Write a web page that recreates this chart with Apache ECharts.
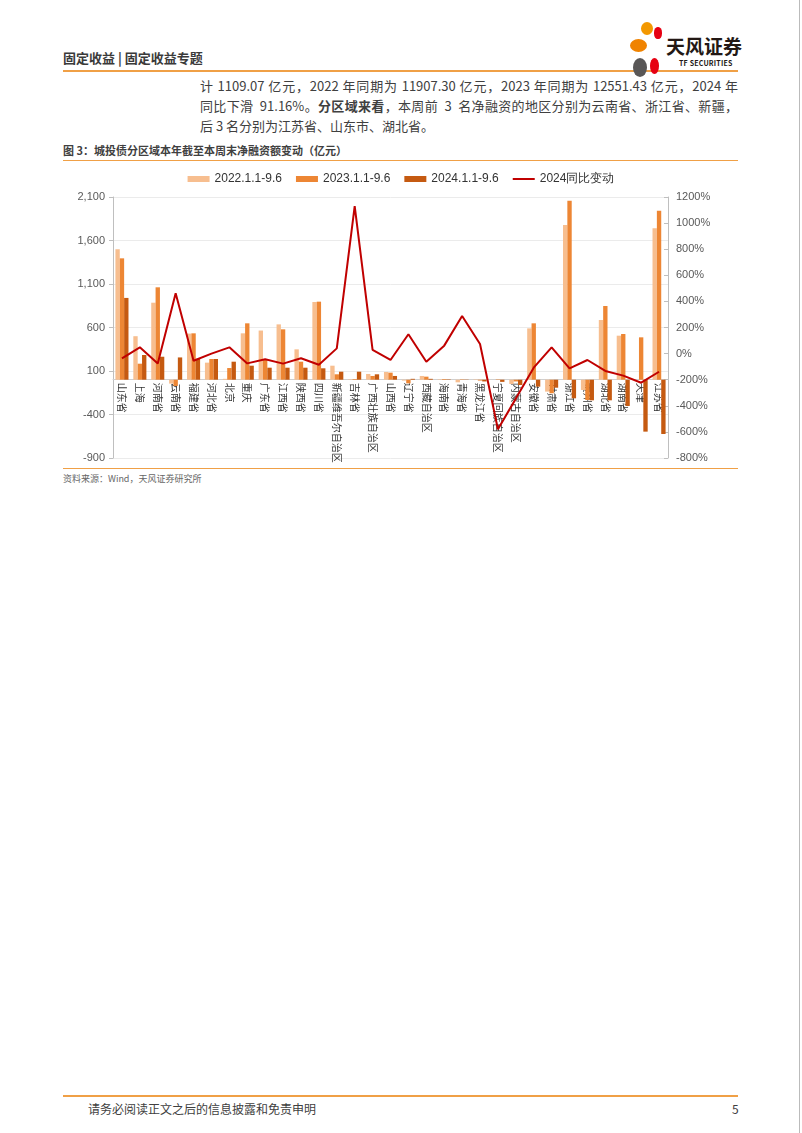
<!DOCTYPE html>
<html><head><meta charset="utf-8">
<script src="https://cdn.jsdelivr.net/npm/echarts@6/dist/echarts.min.js"></script>
<style>
html,body{margin:0;padding:0;background:#fff;}
body{width:802px;height:1133px;position:relative;overflow:hidden;font-family:"Noto Sans CJK SC","Noto Sans",sans-serif;color:#333;}
.abs{position:absolute;}
.hdr{left:63px;top:48px;font-size:13px;font-weight:bold;color:#3a3a3a;}
.oline{background:#F0A046;height:2px;}
.para{left:200px;width:538px;font-size:13px;color:#404040;line-height:20px;}
.para div{text-align:justify;text-align-last:justify;white-space:nowrap;}
.para div.last{text-align-last:left;}
.ftitle{left:63px;top:142px;font-size:11px;font-weight:bold;color:#404040;}
.src{left:63px;top:472px;font-size:9px;color:#666;}
.foot{left:88px;top:1100px;font-size:12px;color:#404040;}
.pg{left:732px;top:1100px;font-size:12px;color:#404040;}
.blob{position:absolute;border-radius:50%;}
</style></head><body>
<div class="abs hdr">固定收益 | 固定收益专题</div>
<div class="abs oline" style="left:63px;top:70px;width:675px;"></div>
<!-- logo -->
<div class="blob" style="left:641px;top:22px;width:12px;height:13px;background:#F39800;"></div>
<div class="blob" style="left:654px;top:27px;width:8px;height:12px;background:#E60012;border-radius:45%;"></div>
<div class="blob" style="left:630px;top:39px;width:17px;height:13px;background:#F08300;"></div>
<div class="blob" style="left:633px;top:58px;width:14px;height:19px;background:#595757;"></div>
<div class="blob" style="left:650px;top:58px;width:9px;height:16px;background:#E60012;"></div>
<div class="abs" style="left:666px;top:32px;font-size:19px;font-weight:bold;color:#231815;">天风证券</div>
<div class="abs" style="left:679px;top:58px;font-size:7px;font-weight:bold;color:#231815;letter-spacing:0.2px;">TF SECURITIES</div>

<div class="abs para" style="top:76px;">
<div>计 1109.07 亿元，2022 年同期为 11907.30 亿元，2023 年同期为 12551.43 亿元，2024 年</div>
<div>同比下滑&nbsp; 91.16%。<b>分区域来看</b>，本周前&nbsp; 3&nbsp; 名净融资的地区分别为云南省、浙江省、新疆，</div>
<div class="last">后 3 名分别为江苏省、山东市、湖北省。</div>
</div>

<div class="abs ftitle">图 3：城投债分区域本年截至本周末净融资额变动（亿元）</div>
<div class="abs" style="left:63px;top:160px;width:675px;height:1px;background:#F0A046;"></div>
<div id="chart" class="abs" style="left:0;top:160px;width:802px;height:308px;"></div>
<div class="abs" style="left:63px;top:468px;width:675px;height:1px;background:#F0A046;"></div>
<div class="abs src">资料来源：Wind，天风证券研究所</div>

<div class="abs oline" style="left:63px;top:1095px;width:675px;"></div>
<div class="abs foot">请务必阅读正文之后的信息披露和免责申明</div>
<div class="abs pg">5</div>
<div class="abs" style="left:799px;top:0;width:1px;height:1133px;background:#bbb;"></div>

<script>
const categories = ['山东省','上海','河南省','云南省','福建省','河北省','北京','重庆','广东省','江西省','陕西省','四川省','新疆维吾尔自治区','吉林省','广西壮族自治区','山西省','辽宁省','西藏自治区','海南省','青海省','黑龙江省','宁夏回族自治区','内蒙古自治区','安徽省','甘肃省','浙江省','贵州省','湖北省','湖南省','天津','江苏省'];
const seriesNames = ['2022.1.1-9.6','2023.1.1-9.6','2024.1.1-9.6','2024同比变动'];
const v2022 = [1500, 500, 885, -45, 530, 196, 10, 533, 565, 636, 349, 893, 161, 5, 66, 89, -10, 43, 5, -30, 5, 0, -49, 590, -137, 1778, -118, 686, 506, 0, 1740];
const v2023 = [1395, 184, 1062, -72, 533, 238, 134, 648, 226, 579, 207, 897, 62, 8, 43, 81, -42, 35, 8, 5, -10, 5, -20, 648, -156, 2058, -233, 847, 525, 487, 1943];
const v2024 = [940, 284, 264, 256, 240, 238, 207, 161, 138, 138, 138, 131, 92, 92, 62, 43, 10, 10, 5, 3, -20, -25, -61, -80, -92, -214, -237, -237, -302, -597, -624];
const yoy = [-36, 48, -75, 462, -55, 0, 48, -75, -44, -77, -36, -85, 40, 1131, 28, -49, 148, -62, 61, 288, 74, -580, -345, -108, 48, -113, -49, -133, -169, -223, -139];
const leftTicks = {min:-900, max:2100, interval:500};
const rightTicks = {min:-800, max:1200, interval:200};

const chartH = 308, gridTop = 37, gridBottom = 10;
const gridH = chartH - gridTop - gridBottom;
// move the category axis up from the grid bottom to the zero line of the left value axis
const zeroOffset = -gridH * (0 - leftTicks.min) / (leftTicks.max - leftTicks.min);

const chart = echarts.init(document.getElementById('chart'), null, {renderer:'canvas'});
const barColors = ['#F7BE8F','#ED8634','#C55A11'];
const lineColor = '#C00000';
const axisFont = {fontFamily:'"Liberation Sans", Arial, sans-serif', fontSize:11, color:'#595959'};
chart.setOption({
  animation:false,
  legend:{
    top:8, left:'center', itemWidth:22, itemHeight:6, itemGap:14,
    textStyle:{fontFamily:'"Liberation Sans Narrow","Liberation Sans",sans-serif', fontSize:12, color:'#333'},
    data:seriesNames.map((n,i)=> i<3 ? {name:n, icon:'rect'} : {name:n, icon:'path://M0,0H44V4H0Z', itemStyle:{color:lineColor}})
  },
  grid:{left:113, right:134, top:gridTop, bottom:gridBottom, containLabel:false, outerBoundsMode:'none'},
  xAxis:{
    type:'category', data:categories, position:'bottom', offset:zeroOffset,
    axisLine:{onZero:false, lineStyle:{color:'#d0d0d0'}},
    axisTick:{show:false},
    axisLabel:{interval:0, rotate:-90, margin:3, fontSize:10, color:'#333', fontFamily:'"Noto Sans CJK SC",sans-serif'}
  },
  yAxis:[
    {type:'value', min:leftTicks.min, max:leftTicks.max, interval:leftTicks.interval,
     axisLine:{show:true, lineStyle:{color:'#bfbfbf'}},
     axisTick:{show:true, length:4, lineStyle:{color:'#bfbfbf'}},
     splitLine:{lineStyle:{color:'#ebebeb'}},
     axisLabel:Object.assign({margin:8, formatter:v=>v.toLocaleString('en-US')}, axisFont)},
    {type:'value', min:rightTicks.min, max:rightTicks.max, interval:rightTicks.interval,
     axisLine:{show:true, lineStyle:{color:'#bfbfbf'}},
     axisTick:{show:true, length:4, inside:true, lineStyle:{color:'#bfbfbf'}},
     splitLine:{show:false},
     axisLabel:Object.assign({margin:8, formatter:v=>v+'%'}, axisFont)}
  ],
  series:[
    {name:seriesNames[0], type:'bar', data:v2022, itemStyle:{color:barColors[0]}, barGap:'0%', barCategoryGap:'27%'},
    {name:seriesNames[1], type:'bar', data:v2023, itemStyle:{color:barColors[1]}, barGap:'0%', barCategoryGap:'27%'},
    {name:seriesNames[2], type:'bar', data:v2024, itemStyle:{color:barColors[2]}, barGap:'0%', barCategoryGap:'27%'},
    {name:seriesNames[3], type:'line', yAxisIndex:1, data:yoy, symbol:'none', z:5,
     lineStyle:{color:lineColor, width:2}, itemStyle:{color:lineColor}}
  ]
});
</script>
</body></html>
